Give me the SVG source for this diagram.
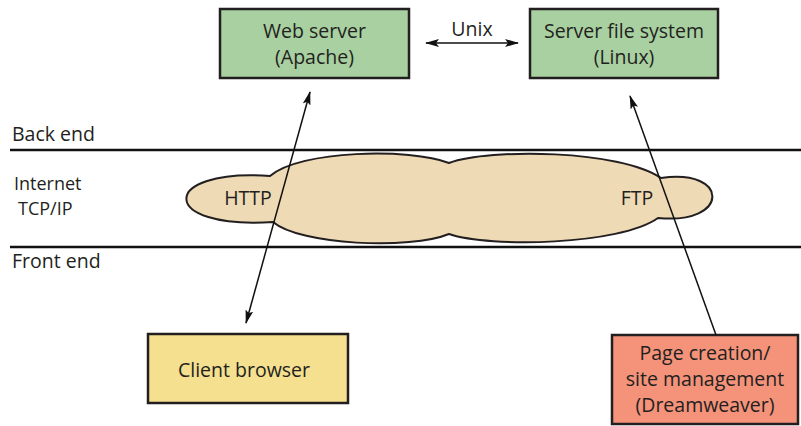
<svg xmlns="http://www.w3.org/2000/svg" width="801" height="426" viewBox="0 0 801 426">
<defs>
<marker id="ah" viewBox="0 0 14 8" refX="13" refY="4" markerWidth="14" markerHeight="8" markerUnits="userSpaceOnUse" orient="auto-start-reverse">
<path d="M0,0 L14,4 L0,8 L3,4 Z" fill="#111"/>
</marker>
</defs>
<style>
text{font-family:"Open Sans","Liberation Sans",sans-serif;font-size:19.5px;fill:#231f20}
.box{stroke:#231f20;stroke-width:2.5}
.c{text-anchor:middle}
.s{font-size:18px}
.conn{stroke:#111;stroke-width:1.5;fill:none}
</style>
<rect width="801" height="426" fill="#fff"/>
<g id="bands">
<line x1="10" y1="150" x2="801" y2="150" stroke="#111" stroke-width="2.5"/>
<line x1="10" y1="247" x2="801" y2="247" stroke="#111" stroke-width="2.5"/>
<text x="12" y="141">Back end</text>
<text x="14" y="190" class="s">Internet</text>
<text x="18" y="215" class="s">TCP/IP</text>
<text x="12" y="268">Front end</text>
</g>
<g id="cloud">
<path d="M270,176 C300,150 410,148 449,163 C490,148 620,150 661,178 C730,168 730,225 658,218 C620,245 490,248 449,234 C410,250 300,245 273,222 C158,230 158,168 270,176 Z" fill="#eedab4" stroke="#231f20" stroke-width="2"/>
<text x="248" y="205" class="c">HTTP</text>
<text x="637" y="205" class="c">FTP</text>
</g>
<g id="web-server">
<rect x="220" y="9" width="189" height="69" fill="#a8d0a0" class="box"/>
<text x="314.5" y="38" class="c">Web server</text>
<text x="314.5" y="64" class="c">(Apache)</text>
</g>
<g id="file-system">
<rect x="530" y="9" width="188" height="69" fill="#a8d0a0" class="box"/>
<text x="624" y="38" class="c">Server file system</text>
<text x="624" y="64" class="c">(Linux)</text>
</g>
<g id="client-browser">
<rect x="148" y="334" width="200" height="69" fill="#f5e08f" class="box"/>
<text x="244" y="377" class="c">Client browser</text>
</g>
<g id="dreamweaver">
<rect x="612" y="335" width="186" height="89" fill="#f4937a" class="box"/>
<text x="705" y="360" class="c">Page creation/</text>
<text x="705" y="386" class="c">site management</text>
<text x="705" y="412" class="c">(Dreamweaver)</text>
</g>
<g id="connectors">
<line x1="426" y1="43" x2="518" y2="43" class="conn" marker-start="url(#ah)" marker-end="url(#ah)"/>
<text x="472" y="36" class="c">Unix</text>
<line x1="310" y1="92" x2="246" y2="323" class="conn" marker-start="url(#ah)" marker-end="url(#ah)"/>
<line x1="716" y1="335" x2="630" y2="96" class="conn" marker-end="url(#ah)"/>
</g>
</svg>
